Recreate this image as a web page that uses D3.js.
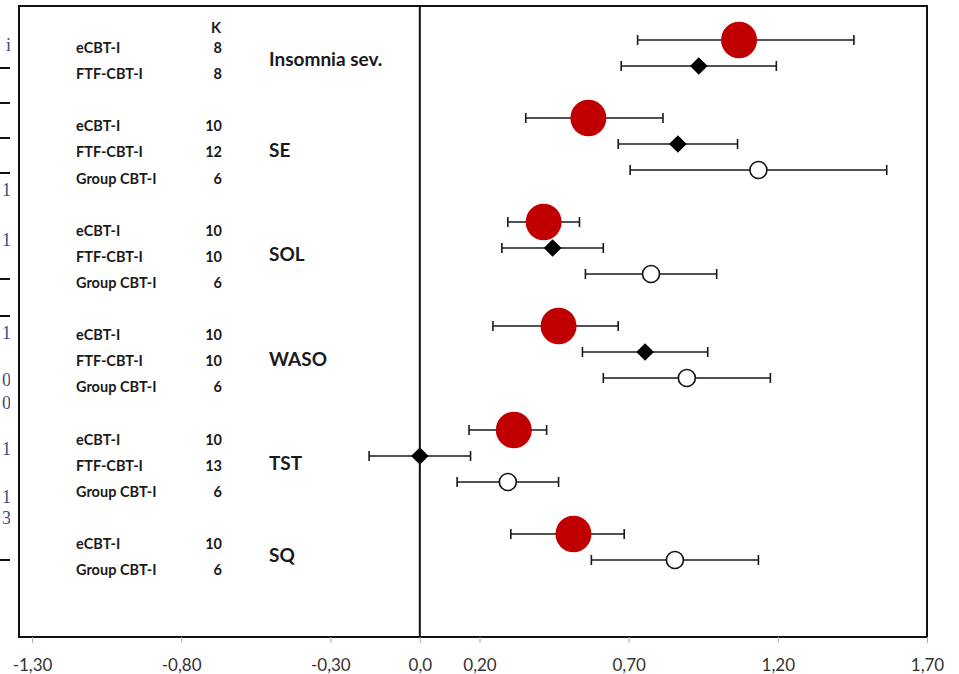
<!DOCTYPE html>
<html>
<head>
<meta charset="utf-8">
<script src="https://cdn.jsdelivr.net/npm/d3@7"></script>
<style>
  body { margin: 0; background: #fff; }
  .row-label { font-family: Lato, "Open Sans", sans-serif; font-weight: 700; font-size: 14.5px; fill: #1a1a1a; }
  .outcome-label { font-family: Lato, "Open Sans", sans-serif; font-weight: 700; font-size: 19px; fill: #1a1a1a; }
  .xAxis text { font-family: Lato, "Open Sans", sans-serif; font-size: 17px; fill: #333; }
  .xAxis line { stroke: #aaa; }
</style>
</head>
<body>
<div class="svg-container"></div>
<script>
var width = 959;
var height = 674;

// one entry per row of the forest plot, top to bottom
var rowOutcome = ["Insomnia sev.", "Insomnia sev.",
                  "SE", "SE", "SE",
                  "SOL", "SOL", "SOL",
                  "WASO", "WASO", "WASO",
                  "TST", "TST", "TST",
                  "SQ", "SQ"];
var rowGroup = ["eCBT-I", "FTF-CBT-I",
                "eCBT-I", "FTF-CBT-I", "Group CBT-I",
                "eCBT-I", "FTF-CBT-I", "Group CBT-I",
                "eCBT-I", "FTF-CBT-I", "Group CBT-I",
                "eCBT-I", "FTF-CBT-I", "Group CBT-I",
                "eCBT-I", "Group CBT-I"];
var rowK = [8, 8, 10, 12, 6, 10, 10, 6, 10, 10, 6, 10, 13, 6, 10, 6];
var rowEffect = [1.07, 0.935, 0.565, 0.865, 1.135, 0.415, 0.445, 0.775, 0.465, 0.755, 0.895, 0.315, 0.0, 0.295, 0.515, 0.855];
var rowLower = [0.73, 0.675, 0.355, 0.665, 0.705, 0.295, 0.275, 0.555, 0.245, 0.545, 0.615, 0.165, -0.17, 0.125, 0.305, 0.575];
var rowUpper = [1.455, 1.195, 0.815, 1.065, 1.565, 0.535, 0.615, 0.995, 0.665, 0.965, 1.175, 0.425, 0.17, 0.465, 0.685, 1.135];

var xTicks = [-1.3, -0.8, -0.3, 0, 0.2, 0.7, 1.2, 1.7];

// bits of the neighbouring table that show at the left edge of the picture
var edgeLines = [68, 103, 138, 173, 279, 316, 560];
var edgeText = ["i", "1", "1", "1", "0", "0", "1", "1", "3"];
var edgeTextY = [45, 190, 240, 333, 380, 403, 449, 497, 518];

var frame = { "left": 19, "top": 6, "right": 927, "bottom": 637 };

// building rows: a blank slot between outcomes
var rows = [];
var slot = 0;
rowOutcome.forEach(function(o, i) {
  if (i > 0 && o != rowOutcome[i - 1]) { slot += 1; }
  rows.push({ outcome: o, group: rowGroup[i], k: rowK[i], es: rowEffect[i],
              lo: rowLower[i], hi: rowUpper[i], slot: slot });
  slot += 1;
});

var svg = d3.select(".svg-container").append("svg")
            .attr("width", width)
            .attr("height", height);

svg.append("rect")
    .attr("width", width)
    .attr("height", height)
    .attr("fill", "#fff");

var scaleX = d3.scaleLinear()
               .domain([-1.3, 1.7])
               .range([32, frame.right]);

var scaleY = d3.scaleLinear()
               .domain([0, 20])
               .range([40, 560]);

var labelY = d3.scaleLinear()
               .domain([0, 20])
               .range([48, 570]);

drawEdge();

// frame
svg.append("rect")
    .attr("x", frame.left)
    .attr("y", frame.top)
    .attr("width", frame.right - frame.left)
    .attr("height", frame.bottom - frame.top)
    .attr("fill", "none")
    .attr("stroke", "#111")
    .attr("stroke-width", 2);

// x axis
var axis = svg.append("g")
              .attr("class", "xAxis")
              .attr("transform", "translate(0," + frame.bottom + ")")
              .call(d3.axisBottom(scaleX)
                      .tickValues(xTicks)
                      .tickSize(6)
                      .tickPadding(16)
                      .tickFormat(function(d) {
                        return d == 0 ? "0,0" : d3.format(".2f")(d).replace(".", ",").replace("−", "-");
                      }));
axis.select(".domain").remove();

// line of no effect
svg.append("line")
    .attr("x1", scaleX(0))
    .attr("x2", scaleX(0))
    .attr("y1", frame.top)
    .attr("y2", frame.bottom)
    .attr("stroke", "#111")
    .attr("stroke-width", 2);

drawLabels();
drawBars();
drawMarkers();

function drawEdge() {
  var edge = svg.append("g").attr("class", "edge");

  edge.selectAll("line")
      .data(edgeLines)
      .enter()
      .append("line")
        .attr("x1", 0)
        .attr("x2", 10)
        .attr("y1", function(d) { return d; })
        .attr("y2", function(d) { return d; })
        .attr("stroke", "#111")
        .attr("stroke-width", 2);

  svg.append("clipPath")
      .attr("id", "edge-clip")
    .append("rect")
      .attr("width", 10)
      .attr("height", height);

  edge.append("g")
      .attr("clip-path", "url(#edge-clip)")
    .selectAll("text")
      .data(edgeText)
      .enter()
      .append("text")
        .attr("x", 11)
        .attr("y", function(d, i) { return edgeTextY[i]; })
        .attr("dy", "0.35em")
        .attr("text-anchor", "end")
        .style("font-family", "'Liberation Serif', serif")
        .style("font-size", "18px")
        .attr("fill", "#34507c")
        .text(function(d) { return d; });
}

function drawLabels() {
  var labels = svg.append("g").attr("class", "labels");

  labels.append("text")
      .attr("class", "row-label")
      .attr("x", 216)
      .attr("y", 28)
      .attr("dy", "0.35em")
      .attr("text-anchor", "middle")
      .text("K");

  labels.selectAll(".group-name")
      .data(rows)
      .enter()
      .append("text")
        .attr("class", "row-label group-name")
        .attr("x", 76)
        .attr("y", function(d) { return labelY(d.slot); })
        .attr("dy", "0.35em")
        .text(function(d) { return d.group; });

  labels.selectAll(".k-value")
      .data(rows)
      .enter()
      .append("text")
        .attr("class", "row-label k-value")
        .attr("x", 222)
        .attr("y", function(d) { return labelY(d.slot); })
        .attr("dy", "0.35em")
        .attr("text-anchor", "end")
        .text(function(d) { return d.k; });

  // outcome name sits in the middle of its rows
  var outcomes = d3.groups(rows, function(d) { return d.outcome; });

  labels.selectAll(".outcome-label")
      .data(outcomes)
      .enter()
      .append("text")
        .attr("class", "outcome-label")
        .attr("x", 269)
        .attr("y", function(d) { return labelY(d3.mean(d[1], function(r) { return r.slot; })) - 2; })
        .attr("dy", "0.35em")
        .text(function(d) { return d[0]; });
}

function drawBars() {
  var bars = svg.append("g").attr("class", "ci-bars")
                .attr("stroke", "#1a1a1a")
                .attr("stroke-width", 1.6);

  bars.selectAll(".ci")
      .data(rows)
      .enter()
      .append("path")
        .attr("class", "ci")
        .attr("fill", "none")
        .attr("d", function(d) {
          var y = scaleY(d.slot), x0 = scaleX(d.lo), x1 = scaleX(d.hi);
          return "M" + x0 + "," + (y - 5) + "V" + (y + 5) +
                 "M" + x0 + "," + y + "H" + x1 +
                 "M" + x1 + "," + (y - 5) + "V" + (y + 5);
        });
}

function drawMarkers() {
  var marks = svg.append("g").attr("class", "markers");

  marks.selectAll("ellipse")
      .data(rows.filter(function(d) { return d.group == "eCBT-I"; }))
      .enter()
      .append("ellipse")
        .attr("cx", function(d) { return scaleX(d.es); })
        .attr("cy", function(d) { return scaleY(d.slot); })
        .attr("rx", 18)
        .attr("ry", 18.3)
        .attr("fill", "#c00000");

  marks.selectAll(".diamond")
      .data(rows.filter(function(d) { return d.group == "FTF-CBT-I"; }))
      .enter()
      .append("path")
        .attr("class", "diamond")
        .attr("d", d3.symbol(d3.symbolSquare, 155))
        .attr("transform", function(d) {
          return "translate(" + scaleX(d.es) + "," + scaleY(d.slot) + ") rotate(45)";
        })
        .attr("fill", "#000");

  marks.selectAll(".open")
      .data(rows.filter(function(d) { return d.group == "Group CBT-I"; }))
      .enter()
      .append("circle")
        .attr("class", "open")
        .attr("cx", function(d) { return scaleX(d.es); })
        .attr("cy", function(d) { return scaleY(d.slot); })
        .attr("r", 8.5)
        .attr("fill", "#fff")
        .attr("stroke", "#111")
        .attr("stroke-width", 1.6);
}
</script>
</body>
</html>
